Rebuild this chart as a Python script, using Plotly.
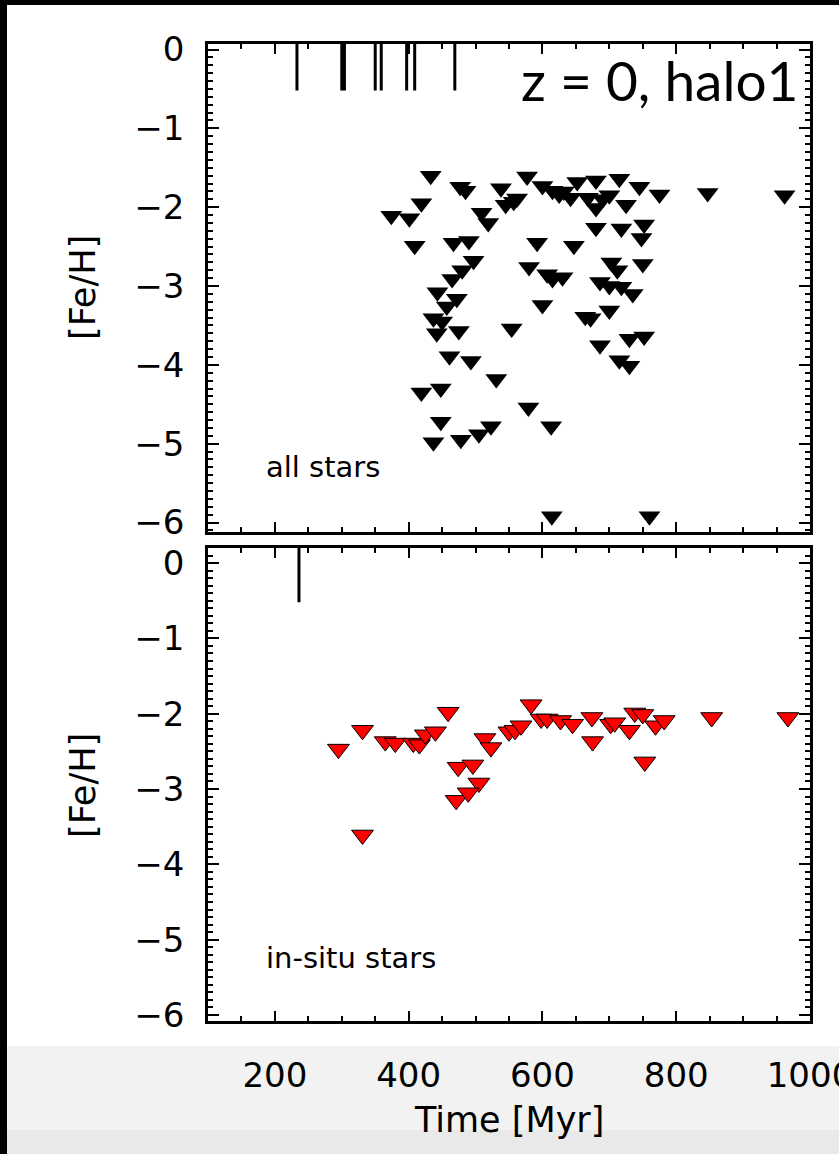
import plotly.graph_objects as go

W, H = 839, 1154

# ---------------- data ----------------
# top panel: all stars (time in Myr, [Fe/H])
t_all = [433, 477, 485, 538, 577,
         600, 615, 625, 632, 642, 652, 668, 680, 690, 700, 715, 725, 745, 775,
         680, 680, 718, 752, 748,
         419, 374, 401, 509, 519, 545, 557, 562,
         409, 467, 490, 497, 480, 465, 443, 472, 457, 437, 450, 442, 475, 554,
         592, 647, 580, 607, 615, 630, 600, 664, 672,
         686, 700, 718, 735, 703, 712, 750, 700,
         686, 730, 752, 715, 730,
         461, 493, 531, 419, 448, 579, 613, 448, 478, 505, 523, 437,
         614, 760, 847, 962]
feh_all = [-1.60, -1.74, -1.79, -1.76, -1.61,
           -1.73, -1.79, -1.84, -1.80, -1.88, -1.68, -1.88, -1.66, -1.90, -1.85, -1.64, -1.97, -1.74, -1.84,
           -2.01, -2.26, -2.27, -2.22, -2.39,
           -1.95, -2.11, -2.14, -2.07, -2.20, -1.97, -1.93, -1.89,
           -2.49, -2.45, -2.43, -2.68, -2.80, -2.91, -3.08, -3.16, -3.26, -3.41, -3.45, -3.60, -3.57, -3.54,
           -2.45, -2.49, -2.76, -2.85, -2.91, -2.89, -3.24, -3.39, -3.41,
           -2.95, -3.00, -3.01, -3.10, -2.70, -2.80, -2.72, -3.31,
           -3.75, -3.67, -3.64, -3.94, -4.01,
           -3.89, -3.95, -4.18, -4.35, -4.30, -4.54, -4.78, -4.72, -4.95, -4.88, -4.78, -4.98,
           -5.92, -5.92, -1.82, -1.85]

# bottom panel: in-situ stars
t_insitu = [295, 331, 331, 365, 380, 407, 416, 425, 440, 459,
            474, 496, 505, 471, 489, 514, 523, 550, 559, 568,
            583, 598, 607, 627, 645, 674, 675, 702, 708, 730,
            738, 750, 753, 769, 782, 853, 967]
feh_insitu = [-2.47, -2.22, -3.61, -2.37, -2.39, -2.39, -2.41, -2.28, -2.24, -1.98,
              -2.71, -2.68, -2.92, -3.15, -3.05, -2.33, -2.45, -2.24, -2.22, -2.16,
              -1.88, -2.07, -2.07, -2.09, -2.14, -2.05, -2.37, -2.14, -2.12, -2.22,
              -1.99, -2.01, -2.64, -2.16, -2.09, -2.05, -2.05]

# event markers drawn from the top of each panel
event_t_all = [233, 300, 304, 350, 359, 397, 409, 469]
event_t_insitu = [236]
event_top = 0.3
event_bottom = -0.52

x_range = [100, 1000.001]
y_range_top = [-6.12, 0.07]
y_range_bot = [-6.08, 0.2]


def px_x(px):
    return px / W


def px_y(py):
    return 1 - py / H


def seg(ts):
    xs, ys = [], []
    for t in ts:
        xs += [t, t, None]
        ys += [event_top, event_bottom, None]
    return xs, ys


TICKFONT = dict(family="DejaVu Sans", size=34, color="black")

fig = go.Figure()

fig.add_trace(go.Scatter(
    x=t_all, y=feh_all, mode="markers", xaxis="x", yaxis="y",
    marker=dict(symbol="triangle-down", size=19, color="black",
                line=dict(width=0)),
    hoverinfo="skip"))

ex, ey = seg(event_t_all)
fig.add_trace(go.Scatter(x=ex, y=ey, mode="lines", xaxis="x", yaxis="y",
                         line=dict(color="black", width=3), hoverinfo="skip"))

fig.add_trace(go.Scatter(
    x=t_insitu, y=feh_insitu, mode="markers", xaxis="x2", yaxis="y2",
    marker=dict(symbol="triangle-down", size=19, color="#ff0000",
                line=dict(color="black", width=1)),
    hoverinfo="skip"))

ex2, ey2 = seg(event_t_insitu)
fig.add_trace(go.Scatter(x=ex2, y=ey2, mode="lines", xaxis="x2", yaxis="y2",
                         line=dict(color="black", width=3), hoverinfo="skip"))

common_x = dict(
    range=x_range, domain=[px_x(208), px_x(810)],
    tick0=0, dtick=200, ticks="inside", ticklen=10, tickwidth=2,
    tickcolor="black", showline=True, linewidth=2.5, linecolor="black",
    mirror="ticks", showgrid=False, zeroline=False,
    minor=dict(ticks="inside", ticklen=5, tickwidth=2, tickcolor="black",
               dtick=50, tick0=0, showgrid=False),
    tickfont=TICKFONT, automargin=False, fixedrange=True,
    ticklabeloverflow="allow",
)
common_y = dict(
    tick0=0, dtick=1, ticks="inside", ticklen=11, tickwidth=2,
    tickcolor="black", showline=True, linewidth=2.5, linecolor="black",
    mirror="ticks", showgrid=False, zeroline=False,
    minor=dict(ticks="inside", ticklen=5, tickwidth=1.5, tickcolor="black",
               dtick=0.1, tick0=0, showgrid=False),
    tickfont=TICKFONT, automargin=False, fixedrange=True,
    ticklabelstandoff=14, ticklabeloverflow="allow",
)

fig.update_layout(
    width=W, height=H,
    margin=dict(l=0, r=0, t=0, b=0),
    paper_bgcolor="white", plot_bgcolor="white",
    showlegend=False,
    xaxis=dict(common_x, anchor="y", showticklabels=False),
    yaxis=dict(common_y, anchor="x", range=y_range_top,
               domain=[px_y(532), px_y(44)]),
    xaxis2=dict(common_x, anchor="y2", showticklabels=True,
                ticklabelstandoff=22),
    yaxis2=dict(common_y, anchor="x2", range=y_range_bot,
                domain=[px_y(1021), px_y(548)]),
)

annotations = [
    dict(text="[Fe/H]", x=px_x(83), y=px_y(288), textangle=-90,
         font=dict(family="DejaVu Sans", size=35, color="black")),
    dict(text="[Fe/H]", x=px_x(83), y=px_y(786), textangle=-90,
         font=dict(family="DejaVu Sans", size=35, color="black")),
    dict(text="Time [Myr]", x=px_x(509), y=px_y(1120),
         font=dict(family="DejaVu Sans", size=35, color="black")),
    dict(text="z = 0, halo1", x=px_x(800), y=px_y(80), xanchor="right",
         font=dict(family="Lato", size=55, color="black")),
    dict(text="all stars", x=px_x(264), y=px_y(467), xanchor="left",
         font=dict(family="DejaVu Sans", size=29, color="black")),
    dict(text="in-situ stars", x=px_x(264), y=px_y(958), xanchor="left",
         font=dict(family="DejaVu Sans", size=29, color="black")),
]
for a in annotations:
    a.setdefault("xanchor", "center")
    a.update(xref="paper", yref="paper", yanchor="middle", showarrow=False)
fig.update_layout(annotations=annotations)

shapes = [
    # grey strip at bottom of the screenshot
    dict(type="rect", xref="paper", yref="paper", x0=0, x1=1,
         y0=px_y(1154), y1=px_y(1046), fillcolor="#f2f2f2", line_width=0,
         layer="below"),
    dict(type="rect", xref="paper", yref="paper", x0=0, x1=1,
         y0=px_y(1154), y1=px_y(1130), fillcolor="#e9e9e9", line_width=0,
         layer="below"),
    # black frame of the screenshot
    dict(type="rect", xref="paper", yref="paper", x0=0, x1=px_x(7),
         y0=0, y1=1, fillcolor="black", line_width=0),
    dict(type="rect", xref="paper", yref="paper", x0=0, x1=1,
         y0=px_y(5), y1=1, fillcolor="black", line_width=0),
]
fig.update_layout(shapes=shapes)

fig.write_html("out.html")
